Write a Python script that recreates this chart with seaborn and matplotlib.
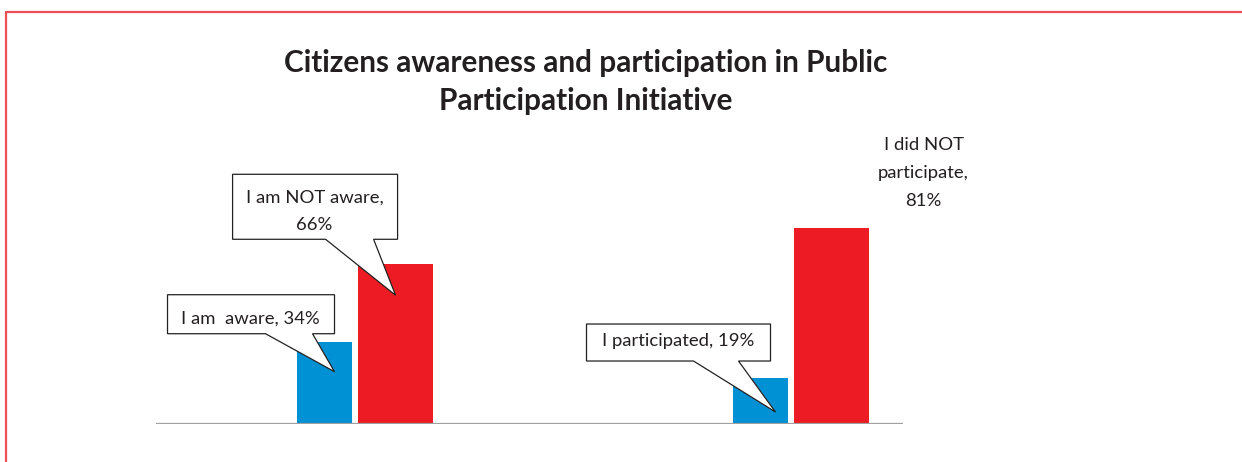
import matplotlib
matplotlib.use("Agg")
import matplotlib.pyplot as plt
import matplotlib.transforms as mtransforms
from matplotlib.patches import Polygon
from matplotlib.lines import Line2D
import seaborn as sns

# Survey results: two questions, each split into a "yes" (blue) and "no" (red) share
blue_labels = ["I am  aware", "I participated"]
blue_values = [34, 19]
red_labels = ["I am NOT aware", "I did NOT participate"]
red_values = [66, 81]
title = "Citizens awareness and participation in Public\nParticipation Initiative"

BLUE = "#0090D4"
RED = "#ED1C24"
FRAME = "#EE4F57"

sns.set_theme(style="white")
plt.rcParams["font.family"] = ["Lato", "DejaVu Sans"]

fig = plt.figure(figsize=(12.42, 4.62), dpi=100)
W, H = 1242, 462
ax = fig.add_axes([156 / W, 38 / H, 747 / W, 242 / H])

# group centres and the offsets of the two bars within each group
centres = [0.0, 1.0]
blue_x = [c - 0.094 for c in centres]
red_x = [c + 0.069 for c in centres]

sns.barplot(x=blue_x, y=blue_values, native_scale=True, width=0.124,
            color=BLUE, saturation=1, linewidth=0, ax=ax)
sns.barplot(x=red_x, y=red_values, native_scale=True, width=0.172,
            color=RED, saturation=1, linewidth=0, ax=ax)

ax.set_xlim(-0.4805, 1.2328)
ax.set_ylim(0, 100)
ax.axhline(0, color="#A0A0A0", lw=1.6, zorder=5)
for s in ax.spines.values():
    s.set_visible(False)
ax.set_xticks([])
ax.set_yticks([])
ax.set_xlabel("")
ax.set_ylabel("")

LABEL_SIZE = 13.3


def pixel_anchor(x, y):
    """Transform whose input is a pixel offset from the data point (x, y)."""
    return mtransforms.Affine2D() + mtransforms.ScaledTranslation(x, y, ax.transData)


def callout(x, y, text, box, base, text_xy, tip_dx=0, tip_dy=-31):
    """Rectangular speech bubble whose pointer ends inside a bar."""
    left, right, bottom, top = box
    b0, b1 = base
    tx, ty = tip_dx, tip_dy
    pts = [(left, bottom), (b0, bottom), (tx, ty), (b1, bottom),
           (right, bottom), (right, top), (left, top)]
    poly = Polygon(pts, closed=True, facecolor="white", edgecolor="#222222",
                   lw=0.9, transform=pixel_anchor(x, y), clip_on=False, zorder=6)
    ax.add_patch(poly)
    ax.annotate(text, xy=(x, y), xytext=text_xy, textcoords="offset pixels",
                ha="center", va="center", fontsize=LABEL_SIZE, color="#231F20",
                linespacing=1.85, zorder=7, annotation_clip=False)


# bubbles, offsets in pixels relative to the top centre of each bar
callout(red_x[0], red_values[0], f"{red_labels[0]},\n{red_values[0]}%",
        box=(-163, 2, 25, 90), base=(-70, -22), text_xy=(-81, 53),
        tip_dx=0, tip_dy=-31)
callout(blue_x[0], blue_values[0], f"{blue_labels[0]}, {blue_values[0]}%",
        box=(-157, 10, 8, 47), base=(-59, -12), text_xy=(-74, 23),
        tip_dx=10, tip_dy=-30)
callout(blue_x[1], blue_values[1], f"{blue_labels[1]}, {blue_values[1]}%",
        box=(-174, 10, 17, 54), base=(-67, -22), text_xy=(-82, 37),
        tip_dx=15, tip_dy=-34)

# plain label for the tallest bar
ax.annotate("I did NOT\nparticipate,\n" + f"{red_values[1]}%",
            xy=(red_x[1], red_values[1]), xytext=(92, 55),
            textcoords="offset pixels", ha="center", va="center",
            fontsize=LABEL_SIZE, color="#231F20", linespacing=1.9,
            annotation_clip=False)

fig.text(585.5 / W, 1 - 82 / H, title, ha="center", va="center",
         fontsize=21.4, fontweight="bold", color="#231F20", linespacing=1.4)

# red frame along the top and left edges
fig.add_artist(Line2D([6 / W, 1], [1 - 12 / H, 1 - 12 / H], color=FRAME,
                      lw=1.6, transform=fig.transFigure))
fig.add_artist(Line2D([6 / W, 6 / W], [0, 1 - 12 / H], color=FRAME,
                      lw=1.6, transform=fig.transFigure))

fig.savefig("out.png", dpi=100, facecolor="white")
